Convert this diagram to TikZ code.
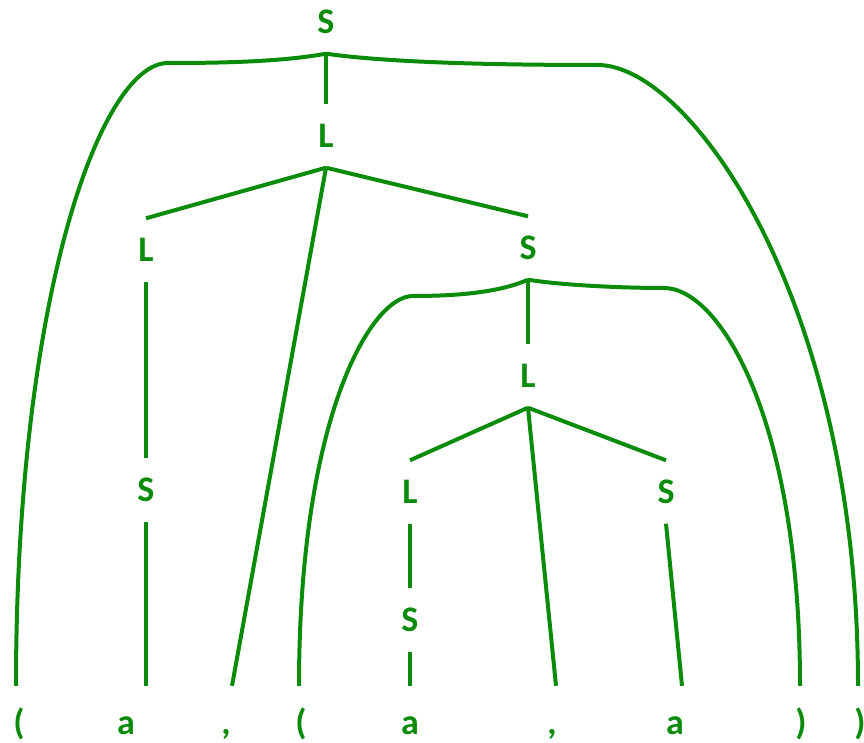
\documentclass[tikz,border=0pt]{standalone}
\usepackage{fontspec}
\setmainfont{Carlito}
\usetikzlibrary{calc}
\definecolor{gfg}{RGB}{10,140,10}
\begin{document}
\begin{tikzpicture}[x=1pt,y=-1pt,
  sym/.style={text=gfg,font=\fontsize{36}{40}\selectfont\bfseries,text height=23pt,text depth=0pt,inner xsep=2pt,inner ysep=20pt},
  leaf/.style={sym,inner ysep=25pt},
  br/.style={draw=gfg,line width=4pt}]
\useasboundingbox (0,0) rectangle (864,743);
% internal nodes
\node[sym] (S0) at (326,22) {S};
\node[sym] (L0) at (326,136) {L};
\node[sym] (L1) at (146,250) {L};
\node[sym] (S1) at (528,248) {S};
\node[sym] (S2) at (146,490) {S};
\node[sym] (L2) at (528,376) {L};
\node[sym] (L3) at (410,492) {L};
\node[sym] (S3) at (666,492) {S};
\node[sym] (S4) at (410,620) {S};
% leaves
\node[leaf] (p1) at (19,722.5) {(};
\node[leaf] (a1) at (126,722.5) {a};
\node[leaf] (c1) at (226,722.5) {,};
\node[leaf] (p2) at (301,722.5) {(};
\node[leaf] (a2) at (410,722.5) {a};
\node[leaf] (c2) at (552,722.5) {,};
\node[leaf] (a3) at (675,722.5) {a};
\node[leaf] (q1) at (801,722.5) {)};
\node[leaf] (q2) at (860,722.5) {)};
% connectors
\draw[br] (S0.south) .. controls (280,62) and (220,63) .. (168,63)
  .. controls (100,63) and (16,300) .. ($(p1.north)+(-3,0)$);
\draw[br] (S0.south) .. controls (370,60) and (450,65) .. (598,65)
  .. controls (690,65) and (858,300) .. ($(q2.north)+(-2,0)$);
\draw[br] (S0.south) -- (L0.north);
\draw[br] (L0.south) -- (L1.north);
\draw[br] (L0.south) -- (S1.north);
\draw[br] (L0.south) -- ($(c1.north)+(6,0)$);
\draw[br] (L1.south) -- (S2.north);
\draw[br] (S2.south) -- (S2.south |- a1.north);
\draw[br] (S1.south) .. controls (500,292) and (460,296) .. (413,296)
  .. controls (370,296) and (299,420) .. ($(p2.north)+(-2,0)$);
\draw[br] (S1.south) .. controls (560,285) and (620,288) .. (664,288)
  .. controls (720,288) and (800,420) .. ($(q1.north)+(-1,0)$);
\draw[br] (S1.south) -- (L2.north);
\draw[br] (L2.south) -- (L3.north);
\draw[br] (L2.south) -- (S3.north);
\draw[br] (L2.south) -- ($(c2.north)+(4,0)$);
\draw[br] (L3.south) -- (S4.north);
\draw[br] (S4.south) -- (a2.north);
\draw[br] (S3.south) -- ($(a3.north)+(7,0)$);
\end{tikzpicture}
\end{document}
